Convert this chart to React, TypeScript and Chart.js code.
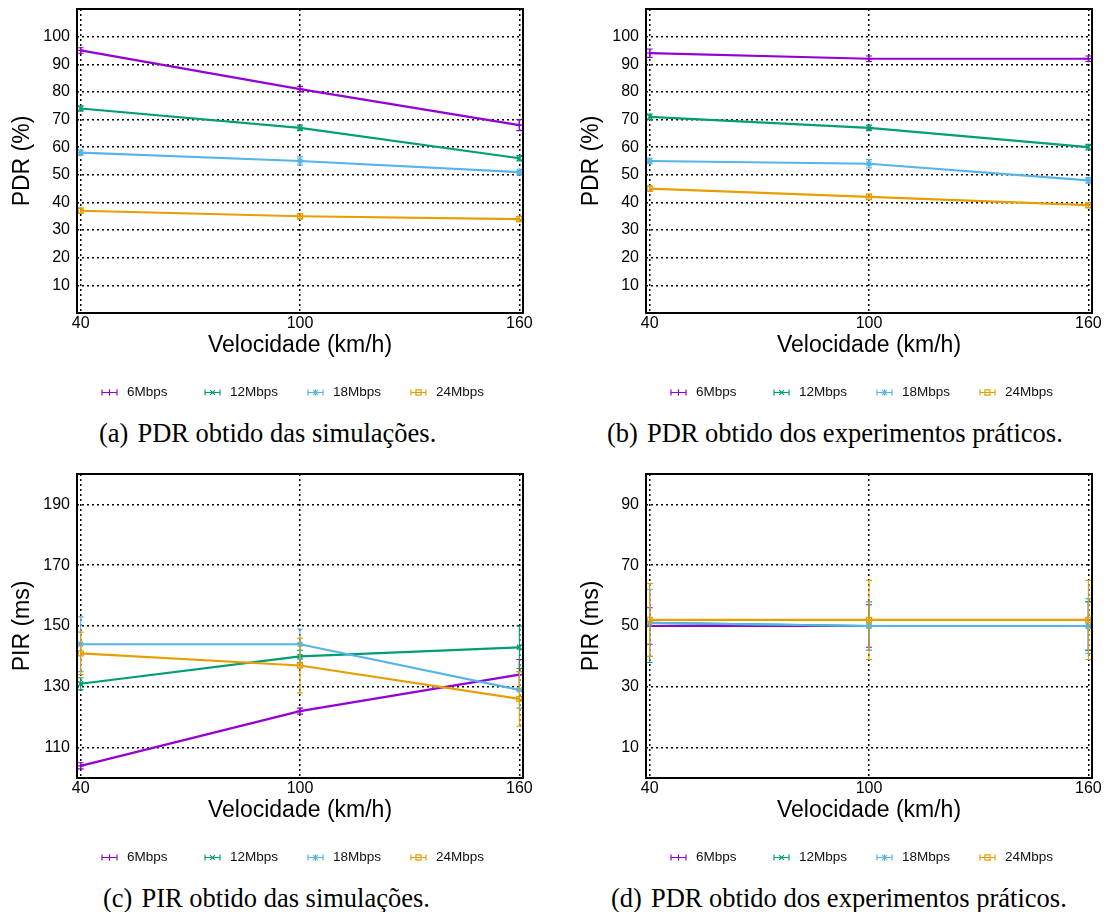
import React, { useEffect, useRef } from 'react';
import { Chart, registerables } from 'chart.js';

Chart.register(...registerables);

// ---------- data ----------
const speeds = [40, 100, 160];
const speedTicks = [40, 100, 160];
const seriesNames = ['6Mbps', '12Mbps', '18Mbps', '24Mbps'];
const seriesColors = ['#9400d3', '#009e73', '#56b4e9', '#e69f00'];
const seriesPoints = ['cross', 'crossRot', 'star', 'rect'];

// (a) PDR simulations
const pdrSim6 = [95, 81, 68];
const pdrSim12 = [74, 67, 56];
const pdrSim18 = [58, 55, 51];
const pdrSim24 = [37, 35, 34];
const pdrSimErr6 = [1, 1, 2];
const pdrSimErr12 = [1, 1, 1];
const pdrSimErr18 = [1, 1.5, 1];
const pdrSimErr24 = [1, 1, 1];

// (b) PDR experiments
const pdrExp6 = [94, 92, 92];
const pdrExp12 = [71, 67, 60];
const pdrExp18 = [55, 54, 48];
const pdrExp24 = [45, 42, 39];
const pdrExpErr6 = [1.5, 1, 1];
const pdrExpErr12 = [1, 1, 1];
const pdrExpErr18 = [1, 1.5, 1];
const pdrExpErr24 = [1, 1, 1];

// (c) PIR simulations
const pirSim6 = [104, 122, 134];
const pirSim12 = [131, 140, 143];
const pirSim18 = [144, 144, 129];
const pirSim24 = [141, 137, 126];
const pirSimErr6 = [1, 1, 5];
const pirSimErr12 = [2, 2, 7];
const pirSimErr18 = [9, 5, 6];
const pirSimErr24 = [7, 9, 9];

// (d) PIR experiments
const pirExp6 = [50, 50, 50];
const pirExp12 = [51, 50, 50];
const pirExp18 = [51, 50, 50];
const pirExp24 = [52, 52, 52];
const pirExpErr6 = [6, 7, 8];
const pirExpErr12 = [13, 8, 8];
const pirExpErr18 = [11, 8, 9];
const pirExpErr24 = [12, 13, 13];

const pdrTicks = [10, 20, 30, 40, 50, 60, 70, 80, 90, 100];
const pirSimTicks = [110, 130, 150, 170, 190];
const pirExpTicks = [10, 30, 50, 70, 90];

const xTitle = 'Velocidade (km/h)';
const captionA = ['(a)', 'PDR obtido das simulações.'];
const captionB = ['(b)', 'PDR obtido dos experimentos práticos.'];
const captionC = ['(c)', 'PIR obtido das simulações.'];
const captionD = ['(d)', 'PDR obtido dos experimentos práticos.'];

// ---------- layout ----------
const W = 539;
const H = 410;
const AREA_LEFT = 77;
const AREA_RIGHT = 523;
const AREA_TOP = 9;
const AREA_BOTTOM = 313;
const FONT = "'Liberation Sans', Arial, Helvetica, sans-serif";

function drawSymbol(ctx: CanvasRenderingContext2D, kind: string, x: number, y: number, r: number) {
  ctx.beginPath();
  if (kind === 'cross' || kind === 'star') {
    ctx.moveTo(x - r, y); ctx.lineTo(x + r, y);
    ctx.moveTo(x, y - r); ctx.lineTo(x, y + r);
  }
  if (kind === 'crossRot' || kind === 'star') {
    const d = r * 0.75;
    ctx.moveTo(x - d, y - d); ctx.lineTo(x + d, y + d);
    ctx.moveTo(x - d, y + d); ctx.lineTo(x + d, y - d);
  }
  if (kind === 'rect') {
    const s = r * 0.8;
    ctx.rect(x - s, y - s, 2 * s, 2 * s);
  }
  ctx.stroke();
}

const errorBarPlugin = {
  id: 'errorBars',
  afterDatasetDraw(chart: any, args: any) {
    const ds = chart.data.datasets[args.index];
    const errs = ds.errors as number[];
    if (!errs) return;
    const ys = chart.scales.y;
    const ctx = chart.ctx as CanvasRenderingContext2D;
    ctx.save();
    ctx.strokeStyle = ds.borderColor;
    ctx.lineWidth = 1.1;
    args.meta.data.forEach((pt: any, j: number) => {
      const v = ds.data[j].y;
      const e = errs[j];
      const x = pt.x;
      const y1 = ys.getPixelForValue(v - e);
      const y2 = ys.getPixelForValue(v + e);
      ctx.beginPath();
      ctx.moveTo(x, y1); ctx.lineTo(x, y2);
      ctx.moveTo(x - 3, y1); ctx.lineTo(x + 3, y1);
      ctx.moveTo(x - 3, y2); ctx.lineTo(x + 3, y2);
      ctx.stroke();
    });
    ctx.restore();
  },
};

const framePlugin = {
  id: 'frame',
  afterDraw(chart: any) {
    const { ctx, chartArea } = chart;
    ctx.save();
    ctx.strokeStyle = '#000';
    ctx.lineWidth = 2;
    ctx.strokeRect(chartArea.left, chartArea.top, chartArea.right - chartArea.left, chartArea.bottom - chartArea.top);
    ctx.restore();
  },
};

const legendPlugin = {
  id: 'gnuLegend',
  afterDraw(chart: any) {
    const ctx = chart.ctx as CanvasRenderingContext2D;
    const y = 392.5;
    ctx.save();
    chart.data.datasets.forEach((ds: any, i: number) => {
      const x0 = 102 + 103 * i;
      ctx.strokeStyle = ds.borderColor;
      ctx.lineWidth = 1.2;
      ctx.beginPath();
      ctx.moveTo(x0, y); ctx.lineTo(x0 + 15, y);
      ctx.moveTo(x0, y - 3); ctx.lineTo(x0, y + 3);
      ctx.moveTo(x0 + 15, y - 3); ctx.lineTo(x0 + 15, y + 3);
      ctx.stroke();
      drawSymbol(ctx, seriesPoints[i], x0 + 7.5, y, 3.2);
      ctx.fillStyle = '#111';
      ctx.font = `13.5px ${FONT}`;
      ctx.textAlign = 'left';
      ctx.textBaseline = 'middle';
      ctx.fillText(ds.label, x0 + 25, y);
    });
    ctx.restore();
  },
};

interface PanelProps {
  left: number;
  top: number;
  values: number[][];
  errors: number[][];
  yMin: number;
  yMax: number;
  yTicks: number[];
  yTitle: string;
}

function Panel({ left, top, values, errors, yMin, yMax, yTicks, yTitle }: PanelProps) {
  const ref = useRef<HTMLCanvasElement>(null);
  useEffect(() => {
    if (!ref.current) return;
    const gridOpts = { color: '#000', lineWidth: 1.5, drawTicks: false, borderDash: [2, 3] };
    const chart = new Chart(ref.current, {
      type: 'line',
      data: {
        datasets: values.map((vals, i) => ({
          label: seriesNames[i],
          data: speeds.map((x, j) => ({ x, y: vals[j] })),
          errors: errors[i],
          borderColor: seriesColors[i],
          backgroundColor: 'rgba(0,0,0,0)',
          borderWidth: 2.2,
          pointStyle: seriesPoints[i],
          pointRadius: 3.5,
          pointBorderWidth: 1.3,
          pointBorderColor: seriesColors[i],
          pointBackgroundColor: 'rgba(0,0,0,0)',
          tension: 0,
          order: 3 - i,
        })) as any,
      },
      options: {
        animation: false,
        responsive: false,
        maintainAspectRatio: false,
        layout: { padding: { left: 0, top: AREA_TOP, right: W - AREA_RIGHT, bottom: 0 } },
        plugins: { legend: { display: false }, tooltip: { enabled: false } },
        scales: {
          x: {
            type: 'linear',
            min: 39,
            max: 161,
            afterBuildTicks: (s: any) => { s.ticks = speedTicks.map((v) => ({ value: v })); },
            afterFit: (s: any) => { s.height = H - AREA_BOTTOM; s.paddingLeft = 0; s.paddingRight = 0; },
            grid: gridOpts as any,
            border: { display: false, dash: [2, 3] },
            ticks: { color: '#000', font: { family: FONT, size: 16 }, padding: 1, maxRotation: 0, autoSkip: false },
            title: { display: true, text: xTitle, color: '#000', font: { family: FONT, size: 23 }, padding: { top: 0, bottom: 50.5 } },
          },
          y: {
            type: 'linear',
            min: yMin,
            max: yMax,
            afterBuildTicks: (s: any) => { s.ticks = yTicks.map((v) => ({ value: v })); },
            afterFit: (s: any) => { s.width = AREA_LEFT; s.paddingTop = 0; s.paddingBottom = 0; },
            grid: gridOpts as any,
            border: { display: false, dash: [2, 3] },
            ticks: { color: '#000', font: { family: FONT, size: 16 }, padding: 7, autoSkip: false },
            title: { display: true, text: yTitle, color: '#000', font: { family: FONT, size: 23 }, padding: { top: 8.7, bottom: 0 } },
          },
        },
      } as any,
      plugins: [errorBarPlugin, framePlugin, legendPlugin],
    });
    return () => chart.destroy();
  }, []);
  return (
    <canvas
      ref={ref}
      width={W}
      height={H}
      style={{ position: 'absolute', left, top, width: W, height: H }}
    />
  );
}

function Caption({ left, top, parts }: { left: number; top: number; parts: string[] }) {
  return (
    <div
      style={{
        position: 'absolute',
        left,
        top,
        fontFamily: "'Liberation Serif', 'Times New Roman', serif",
        fontSize: 26.5,
        lineHeight: 1,
        whiteSpace: 'nowrap',
        color: '#000',
      }}
    >
      <span>{parts[0]}</span>
      <span style={{ marginLeft: 9 }}>{parts[1]}</span>
    </div>
  );
}

export default function App() {
  return (
    <div style={{ position: 'absolute', left: 0, top: 0, width: 1108, height: 912, background: '#fff', overflow: 'hidden' }}>
      <Panel
        left={0}
        top={0}
        values={[pdrSim6, pdrSim12, pdrSim18, pdrSim24]}
        errors={[pdrSimErr6, pdrSimErr12, pdrSimErr18, pdrSimErr24]}
        yMin={0}
        yMax={110}
        yTicks={pdrTicks}
        yTitle="PDR (%)"
      />
      <Panel
        left={569}
        top={0}
        values={[pdrExp6, pdrExp12, pdrExp18, pdrExp24]}
        errors={[pdrExpErr6, pdrExpErr12, pdrExpErr18, pdrExpErr24]}
        yMin={0}
        yMax={110}
        yTicks={pdrTicks}
        yTitle="PDR (%)"
      />
      <Panel
        left={0}
        top={465}
        values={[pirSim6, pirSim12, pirSim18, pirSim24]}
        errors={[pirSimErr6, pirSimErr12, pirSimErr18, pirSimErr24]}
        yMin={100}
        yMax={200}
        yTicks={pirSimTicks}
        yTitle="PIR (ms)"
      />
      <Panel
        left={569}
        top={465}
        values={[pirExp6, pirExp12, pirExp18, pirExp24]}
        errors={[pirExpErr6, pirExpErr12, pirExpErr18, pirExpErr24]}
        yMin={0}
        yMax={100}
        yTicks={pirExpTicks}
        yTitle="PIR (ms)"
      />
      <Caption left={99} top={419.5} parts={captionA} />
      <Caption left={607} top={419.5} parts={captionB} />
      <Caption left={103} top={884.5} parts={captionC} />
      <Caption left={611} top={884.5} parts={captionD} />
    </div>
  );
}
